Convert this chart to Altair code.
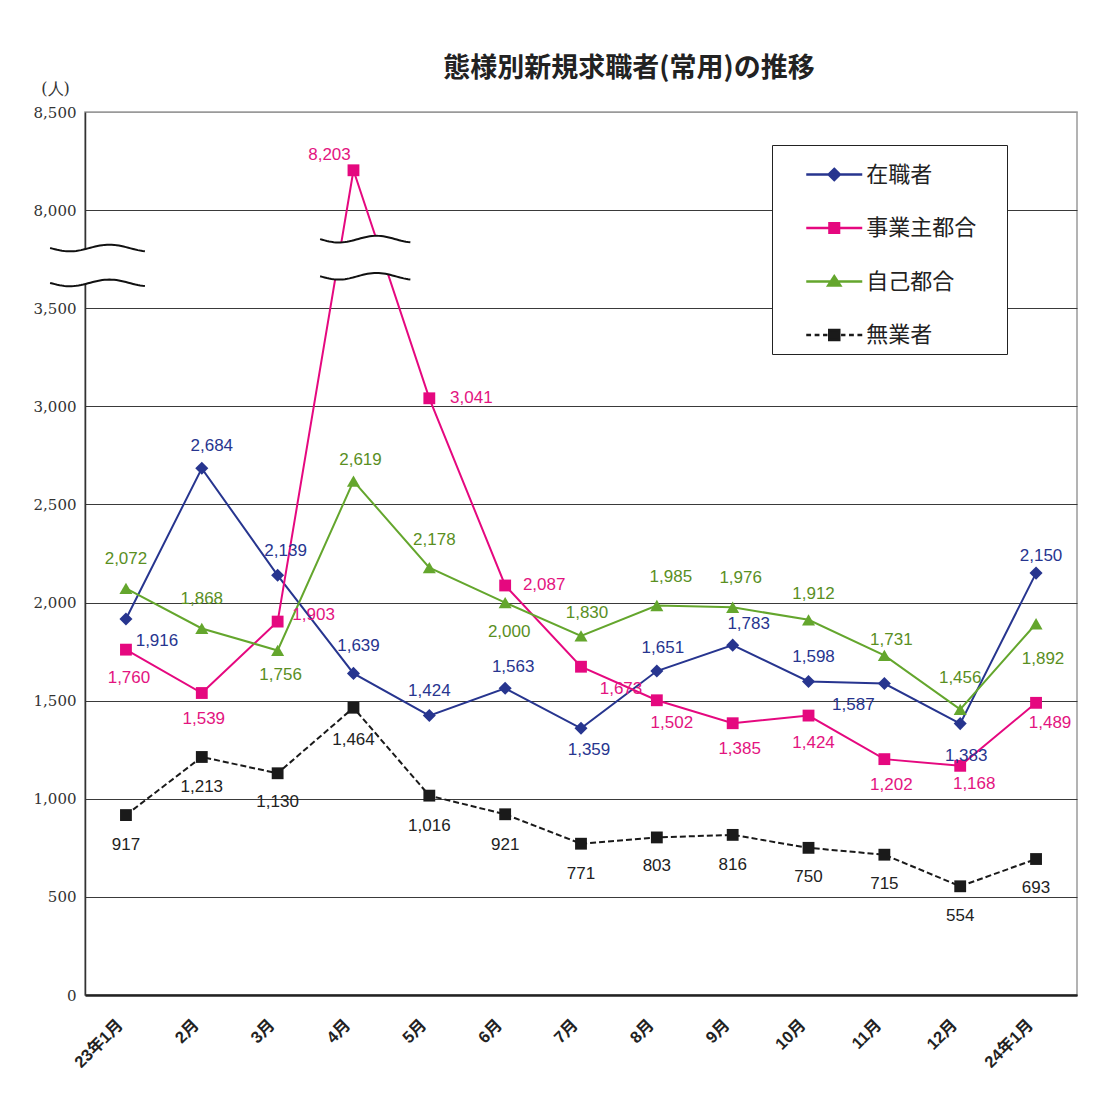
import json
import altair as alt
import numpy as np
import pandas as pd

# ---------------- data ----------------
months = ["23年1月", "2月", "3月", "4月", "5月", "6月", "7月", "8月", "9月",
          "10月", "11月", "12月", "24年1月"]
series_names = ["在職者", "事業主都合", "自己都合", "無業者"]
employed = [1916, 2684, 2139, 1639, 1424, 1563, 1359, 1651, 1783, 1598, 1587, 1383, 2150]
employer_reason = [1760, 1539, 1903, 8203, 3041, 2087, 1673, 1502, 1385, 1424, 1202, 1168, 1489]
own_reason = [2072, 1868, 1756, 2619, 2178, 2000, 1830, 1985, 1976, 1912, 1731, 1456, 1892]
unemployed = [917, 1213, 1130, 1464, 1016, 921, 771, 803, 816, 750, 715, 554, 693]
y_tick_values = [0, 500, 1000, 1500, 2000, 2500, 3000, 3500, 8000, 8500]

# ---------------- styles ----------------
line_colors = ["#27358f", "#e5087f", "#64a62d", "#1a1a1a"]
label_colors = ["#27358f", "#e3147f", "#5a8f1f", "#222222"]
point_shapes = ["diamond", "square", "triangle-up", "square"]
point_sizes = [170, 140, 170, 140]
dashes = [None, None, None, [6, 3]]

# label offsets (pixels from the point, + right / + down)
label_dx = [
    [31, 10, 8, 5, 0, 8, 8, 6, 16, 5, -31, 6, 5],
    [3, 2, 36, -24, 42, 39, 40, 15, 7, 5, 7, 14, 14],
    [0, 0, 3, 7, 5, 4, 6, 14, 8, 5, 7, 0, 7],
    [0, 0, 0, 0, 0, 0, 0, 0, 0, 0, 0, 0, 0],
]
label_dy = [
    [22, -22, -24, -27, -25, -21, 22, -23, -21, -24, 21, 32, -17],
    [28, 26, -7, -15, 0, 0, 22, 23, 26, 27, 26, 18, 20],
    [-29, -29, 25, -21, -28, 29, -23, -28, -29, -26, -15, -31, 35],
    [30, 30, 29, 32, 30, 31, 30, 29, 30, 29, 29, 30, 29],
]

# ---------------- layout ----------------
W, H = 992, 883
PAD = {"left": 77, "top": 104, "right": 25, "bottom": 90}
XMIN, XMAX = -0.54, len(months) - 1 + 0.54
YMAX_PLOT = 4500
CUT, SHIFT = 3750, 4000           # broken axis: values above CUT are drawn SHIFT lower
PXX = W / (XMAX - XMIN)
PXY = H / YMAX_PLOT


def to_plot(v):
    return v - SHIFT if v > CUT else v


all_values = [employed, employer_reason, own_reason, unemployed]
rows = []
for si, (name, vals) in enumerate(zip(series_names, all_values)):
    for i, v in enumerate(vals):
        yp = to_plot(v)
        rows.append({
            "series": name, "idx": i, "value": v, "yp": yp,
            "lx": i + label_dx[si][i] / PXX,
            "ly": yp - label_dy[si][i] / PXY,
            "label": f"{v:,}",
        })
df = pd.DataFrame(rows)

# break decoration (wavy double line), positions in axis units
breaks = [
    {"x0": -1.0, "x1": 0.25, "upper": 3807, "lower": 3629},
    {"x0": 2.56, "x1": 3.75, "upper": 3852, "lower": 3663},
]
wave_t = np.linspace(0, 1, 41)
wave_shape = -np.sin(2 * np.pi * 1.2 * wave_t)
WAVE_AMP = 17
wrows = []
for bi, b in enumerate(breaks):
    for t, s in zip(wave_t, wave_shape):
        wrows.append({"brk": bi, "wx": b["x0"] + (b["x1"] - b["x0"]) * t,
                      "wu": b["upper"] + WAVE_AMP * s, "wl": b["lower"] + WAVE_AMP * s})
wdf = pd.DataFrame(wrows)

# ---------------- axes ----------------
x_axis = alt.Axis(
    values=list(range(len(months))),
    labelExpr=json.dumps(months, ensure_ascii=False) + "[datum.value]",
    labelAngle=-45, labelAlign="right", labelBaseline="middle",
    labelPadding=27, labelOffset=-6,
    labelFont="Liberation Sans, Noto Sans CJK JP", labelFontSize=16.5,
    labelFontWeight="bold", labelColor="#222222",
    ticks=False, grid=False, domainColor="#222222", domainWidth=2.5,
    title=None, zindex=0,
)
y_axis = alt.Axis(
    values=[to_plot(v) for v in y_tick_values],
    labelExpr=f"datum.value > {CUT} ? format(datum.value + {SHIFT}, ',') : format(datum.value, ',')",
    labelFont="DejaVu Serif", labelFontSize=15, labelColor="#333333", labelPadding=9,
    ticks=False, grid=True,
    gridColor={"condition": {"test": f"datum.value >= {YMAX_PLOT}", "value": "#9a9a9a"},
               "value": "#3a3a3a"},
    gridWidth=1, domainColor="#333333", domainWidth=1.5,
    title="(人)", titleAngle=0, titleX=-30, titleY=-24, titleAlign="center",
    titleBaseline="middle", titleFont="DejaVu Serif", titleFontSize=16,
    titleFontWeight="normal", titleColor="#333333", zindex=0,
)
x_scale = alt.Scale(domain=[XMIN, XMAX], nice=False, zero=False)
y_scale = alt.Scale(domain=[0, YMAX_PLOT], nice=False)


def X(field):
    return alt.X(f"{field}:Q", scale=x_scale, axis=x_axis)


def Y(field):
    return alt.Y(f"{field}:Q", scale=y_scale, axis=y_axis)


base = alt.Chart(df)

line_layers, point_layers, text_layers = [], [], []
for si, name in enumerate(series_names):
    sub = base.transform_filter(alt.datum.series == name)
    lkw = dict(color=line_colors[si], strokeWidth=2)
    if dashes[si]:
        lkw["strokeDash"] = dashes[si]
    line_layers.append(sub.mark_line(**lkw).encode(x=X("idx"), y=Y("yp"), order="idx:Q"))
    point_layers.append(sub.mark_point(shape=point_shapes[si], filled=True, size=point_sizes[si],
                                       color=line_colors[si], opacity=1)
                        .encode(x=X("idx"), y=Y("yp")))
    text_layers.append(sub.mark_text(color=label_colors[si], font="Liberation Sans", fontSize=17,
                                     align="center", baseline="middle")
                       .encode(x=X("lx"), y=Y("ly"), text="label:N"))

wbase = alt.Chart(wdf)
break_fill = wbase.mark_area(color="white", opacity=1).encode(
    x=X("wx"), y=Y("wu"), y2="wl:Q", detail="brk:N")
break_upper = wbase.mark_line(color="#111111", strokeWidth=2).encode(
    x=X("wx"), y=Y("wu"), detail="brk:N")
break_lower = wbase.mark_line(color="#111111", strokeWidth=2).encode(
    x=X("wx"), y=Y("wl"), detail="brk:N")

# ---------------- legend (line + marker symbols) ----------------
legend_paths = [
    "M-1.4,0H1.4M0,-0.28L0.28,0L0,0.28L-0.28,0Z",
    "M-1.4,0H1.4M-0.24,-0.24H0.24V0.24H-0.24Z",
    "M-1.4,0H1.4M0,-0.26L0.3,0.2H-0.3Z",
    "M-1.4,0H-1.16M-0.98,0H-0.74M-0.56,0H-0.34M0.34,0H0.56M0.74,0H0.98M1.16,0H1.4"
    "M-0.25,-0.25H0.25V0.25H-0.25Z",
]
LEG = dict(title=None, orient="none", legendX=687, legendY=33,
           labelExpr="datum.label + '\u3000\u200b'")
legend_layer = alt.Chart(pd.DataFrame({"series": series_names})).transform_filter("false").mark_point(
    filled=True, opacity=1, strokeWidth=2.5
).encode(
    color=alt.Color("series:N", scale=alt.Scale(domain=series_names, range=line_colors),
                    legend=alt.Legend(**LEG)),
    stroke=alt.Stroke("series:N", scale=alt.Scale(domain=series_names, range=line_colors),
                      legend=alt.Legend(**LEG)),
    shape=alt.Shape("series:N", scale=alt.Scale(domain=series_names, range=legend_paths),
                    legend=alt.Legend(**LEG)),
)

chart = alt.layer(
    *line_layers, break_fill, break_upper, break_lower, *point_layers, *text_layers, legend_layer
).properties(
    width=W, height=H, padding=PAD, autosize="none",
    title=alt.TitleParams("態様別新規求職者(常用)の推移", font="Noto Sans CJK JP", fontSize=27,
                          fontWeight="bold", color="#222222", anchor="middle", dx=48, offset=-3),
).configure_view(
    stroke="#9a9a9a", strokeWidth=1.5
).configure_legend(
    padding=8, strokeColor="#222222", fillColor="white",
    labelFont="Noto Sans CJK JP", labelFontSize=22, labelColor="#222222",
    labelOffset=10.5, symbolOffset=32.75, rowPadding=20.5,
    symbolStrokeWidth=2.5, symbolSize=1600, symbolOpacity=1, labelLimit=400,
)

chart.save("out.html", embed_options={"renderer": "svg", "actions": False})
